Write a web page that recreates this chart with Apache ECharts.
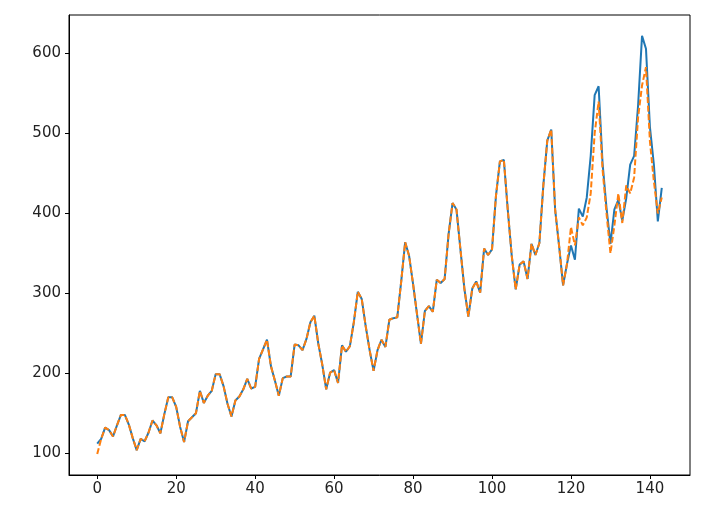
<!DOCTYPE html>
<html>
<head>
<meta charset="utf-8">
<script src="https://cdn.jsdelivr.net/npm/echarts@6/dist/echarts.min.js"></script>
<style>
html,body{margin:0;padding:0;background:#fff;}
#chart{width:702px;height:515px;}
</style>
</head>
<body>
<div id="chart"></div>
<script>
const actual = [112,118,132,129,121,135,148,148,136,119,104,118,
115,126,141,135,125,149,170,170,158,133,114,140,
145,150,178,163,172,178,199,199,184,162,146,166,
171,180,193,181,183,218,230,242,209,191,172,194,
196,196,236,235,229,243,264,272,237,211,180,201,
204,188,235,227,234,264,302,293,259,229,203,229,
242,233,267,269,270,315,364,347,312,274,237,278,
284,277,317,313,318,374,413,405,355,306,271,306,
315,301,356,348,355,422,465,467,404,347,305,336,
340,318,362,348,363,435,491,505,404,359,310,337,
360,342,406,396,420,472,548,559,463,407,362,405,
417,391,419,461,472,535,622,606,508,461,390,432];

const predicted = [99,118,132,129,121,135,148,148,136,119,104,118,
115,126,141,135,125,149,170,170,158,133,114,140,
145,150,178,163,172,178,199,199,184,162,146,166,
171,180,193,181,183,218,230,242,209,191,172,194,
196,196,236,235,229,243,264,272,237,211,180,201,
204,188,235,227,234,264,302,293,259,229,203,229,
242,233,267,269,270,315,364,347,312,274,237,278,
284,277,317,313,318,374,413,405,355,306,271,306,
315,301,356,348,355,422,465,467,404,347,305,336,
340,318,362,348,363,435,491,505,404,359,310,337,
383,360,395,385,395,425,500,540,455,400,350,385,
425,388,435,425,445,520,560,583,490,440,400,420];

const xTicks = [0,20,40,60,80,100,120,140];
const yTicks = [100,200,300,400,500,600];

const chart = echarts.init(document.getElementById('chart'), null, {renderer:'canvas'});
const labelStyle = {color:'#222', fontSize:15, fontFamily:'DejaVu Sans'};
chart.setOption({
  animation:false,
  backgroundColor:'#fff',
  grid:{left:69, right:12, top:15, bottom:40, show:true, borderColor:'#000', borderWidth:1, backgroundColor:'transparent'},
  xAxis:{
    type:'value', min:-7.15, max:150.15,
    axisLine:{show:true, onZero:false, lineStyle:{color:'#000', width:1}},
    axisTick:{show:true, length:4, customValues:xTicks, lineStyle:{color:'#000'}},
    axisLabel:Object.assign({customValues:xTicks, margin:7, formatter:v=>String(Math.round(v))}, labelStyle),
    splitLine:{show:false}
  },
  yAxis:{
    type:'value', min:72.85, max:648.15,
    axisLine:{show:true, onZero:false, lineStyle:{color:'#000', width:1}},
    axisTick:{show:true, length:4, customValues:yTicks, lineStyle:{color:'#000'}},
    axisLabel:Object.assign({customValues:yTicks, margin:8, formatter:v=>String(Math.round(v))}, labelStyle),
    splitLine:{show:false}
  },
  series:[
    {type:'line', data:actual.map((v,i)=>[i,v]), showSymbol:false, symbol:'none',
     lineStyle:{color:'#1f77b4', width:2}, itemStyle:{color:'#1f77b4'}, z:2},
    {type:'line', data:predicted.map((v,i)=>[i,v]), showSymbol:false, symbol:'none',
     lineStyle:{color:'#ff7f0e', width:2, type:[6,2.6]}, itemStyle:{color:'#ff7f0e'}, z:3}
  ]
});
</script>
</body>
</html>
